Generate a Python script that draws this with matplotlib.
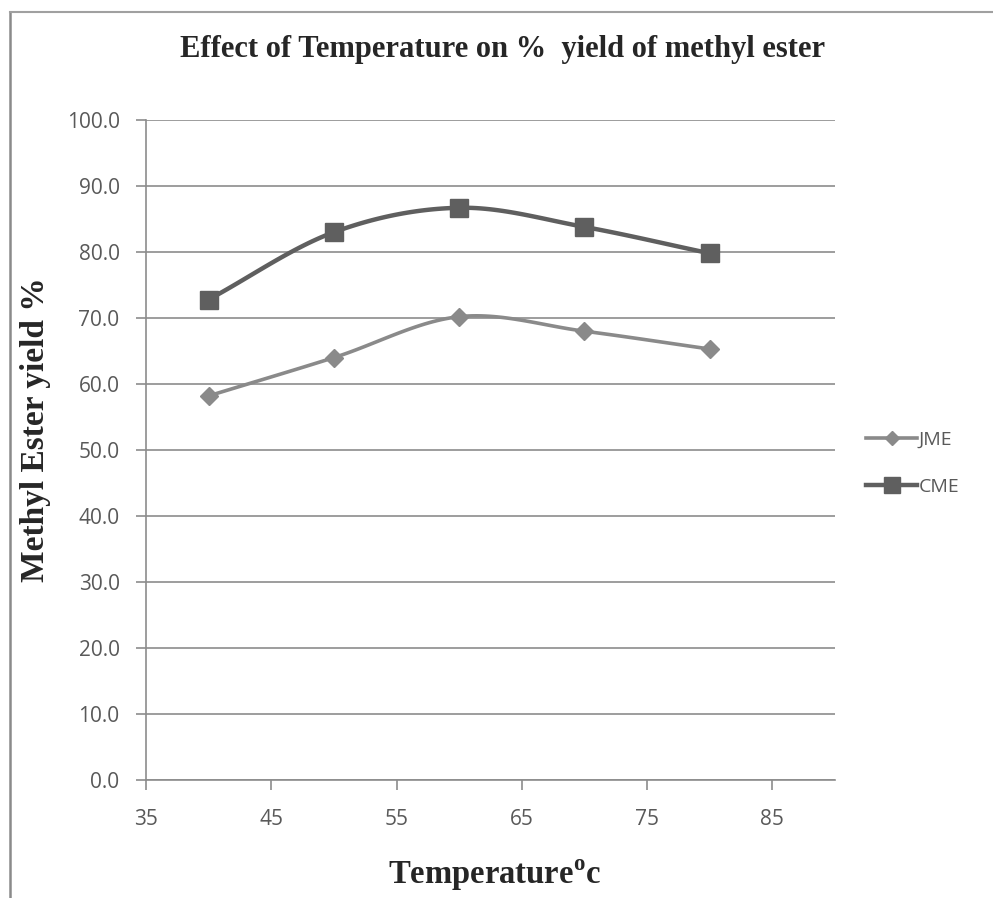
import numpy as np
import matplotlib.pyplot as plt
from matplotlib.lines import Line2D

temps = [40, 50, 60, 70, 80]
jme_yield = [58.2, 64.0, 70.2, 68.0, 65.3]
cme_yield = [72.8, 83.0, 86.7, 83.8, 79.8]

x_ticks = [35, 45, 55, 65, 75, 85]
y_ticks = [0, 10, 20, 30, 40, 50, 60, 70, 80, 90, 100]

TICK_GREY = "#595959"
GRID_GREY = "#8c8c8c"
JME_GREY = "#8a8a8a"
CME_GREY = "#5f5f5f"
SERIF = ["Liberation Serif", "DejaVu Serif"]


def smooth(xs, ys, n=30):
    # Catmull-Rom curve through the points, similar to spreadsheet "smoothed line"
    xs = np.asarray(xs, float)
    ys = np.asarray(ys, float)
    px = np.concatenate([[2 * xs[0] - xs[1]], xs, [2 * xs[-1] - xs[-2]]])
    py = np.concatenate([[2 * ys[0] - ys[1]], ys, [2 * ys[-1] - ys[-2]]])
    out_x, out_y = [], []
    t = np.linspace(0, 1, n)
    for i in range(1, len(px) - 2):
        for arr, out in ((px, out_x), (py, out_y)):
            p0, p1, p2, p3 = arr[i - 1], arr[i], arr[i + 1], arr[i + 2]
            seg = 0.5 * ((2 * p1) + (-p0 + p2) * t
                         + (2 * p0 - 5 * p1 + 4 * p2 - p3) * t ** 2
                         + (-p0 + 3 * p1 - 3 * p2 + p3) * t ** 3)
            out.extend(seg)
    return np.array(out_x), np.array(out_y)


fig = plt.figure(figsize=(9.93, 8.98), dpi=100)
# chart-area frame: only the top and left edges are visible
fig.lines.append(Line2D([10 / 993, 10 / 993], [0, 1 - 12 / 898], transform=fig.transFigure,
                        color="#8a8a8a", linewidth=1.8))
fig.lines.append(Line2D([10 / 993, 1], [1 - 12 / 898, 1 - 12 / 898], transform=fig.transFigure,
                        color="#a0a0a0", linewidth=1.5))

ax = fig.add_axes([146 / 993, 1 - 780 / 898, (835 - 146) / 993, (780 - 120) / 898])

jx, jy = smooth(temps, jme_yield)
cx, cy = smooth(temps, cme_yield)
ax.plot(jx, jy, color=JME_GREY, linewidth=2.6, solid_capstyle="round", zorder=3)
ax.plot(cx, cy, color=CME_GREY, linewidth=3.2, solid_capstyle="round", zorder=3)
ax.plot(temps, jme_yield, linestyle="none", marker="D", markersize=9,
        color=JME_GREY, zorder=4)
ax.plot(temps, cme_yield, linestyle="none", marker="s", markersize=13,
        color=CME_GREY, zorder=4)

# legend entries drawn as line+marker samples
ax.plot([], [], color=JME_GREY, linewidth=2.6, marker="D", markersize=7, label="JME")
ax.plot([], [], color=CME_GREY, linewidth=3.2, marker="s", markersize=11, label="CME")
leg = ax.legend(loc="center left", bbox_to_anchor=(1.02, 0.48), frameon=False,
                handlelength=2.6, handletextpad=0.1, labelspacing=1.5,
                prop={"family": "Open Sans", "size": 14})
for txt in leg.get_texts():
    txt.set_color(TICK_GREY)

ax.set_xlim(35, 90)
ax.set_ylim(0, 100)
ax.set_xticks(x_ticks)
ax.set_yticks(y_ticks)
ax.set_yticklabels([f"{v:.1f}" for v in y_ticks])
ax.yaxis.grid(True, color=GRID_GREY, linewidth=1.2)
ax.set_axisbelow(True)
for side in ("top", "right"):
    ax.spines[side].set_visible(False)
for side in ("left", "bottom"):
    ax.spines[side].set_color(GRID_GREY)
    ax.spines[side].set_linewidth(1.2)
ax.tick_params(axis="both", direction="out", length=7, width=1.2, color=GRID_GREY,
               labelcolor=TICK_GREY, labelsize=15)
ax.tick_params(axis="x", pad=14)
ax.tick_params(axis="y", pad=12)
for lbl in ax.get_xticklabels() + ax.get_yticklabels():
    lbl.set_family("Open Sans")

fig.text(503 / 993, 1 - 50 / 898, "Effect of Temperature on %  yield of methyl ester",
         ha="center", va="center", family=SERIF, fontweight="bold", fontsize=22,
         color="#262626")
fig.text(495 / 993, 1 - 875 / 898, "Temperature$^{\\mathregular{o}}$c",
         ha="center", va="center", family=SERIF, fontweight="bold", fontsize=23.5,
         color="#262626")
fig.text(36 / 993, 1 - 430 / 898, "Methyl Ester yield %", rotation=90,
         ha="center", va="center", family=SERIF, fontweight="bold", fontsize=24,
         color="#262626")

fig.savefig("out.png", dpi=100, facecolor="white")
